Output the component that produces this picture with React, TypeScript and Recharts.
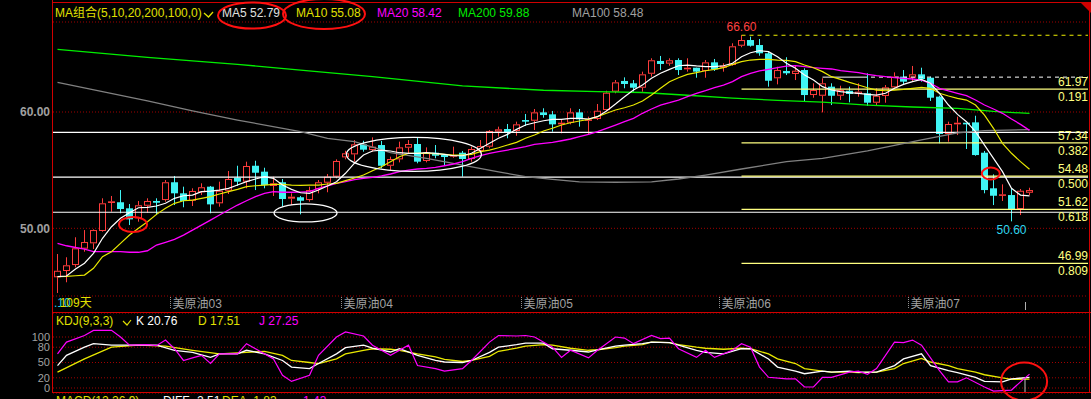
import React from "react";
import { ComposedChart, Bar, Line, XAxis, YAxis, CartesianGrid, ReferenceLine, ReferenceDot } from "recharts";

const FONT = "'Liberation Sans', 'Noto Sans CJK SC', Arial, sans-serif";
const UP = "#ff3c3c";
const DOWN = "#40f4f4";
const GRID = "#a00000";
const FRAME = "#d00000";
const FIB = "#ffff80";
const AXIS_TEXT = "#a0a0a0";

// daily candles
const opens = [
  45.79, 46.33, 46.84, 48.25, 48.71, 49.77, 52.18, 52.24, 51.72, 50.86, 51.94, 52.35, 52.43, 53.96, 53.01, 52.37, 53.1, 53.58, 52.15, 53.23,
  54.35, 54.01, 55.38, 54.87, 53.64, 53.96, 52.55, 52.67, 52.43, 53.38, 53.92, 54.44, 56.1, 56.36, 57.22, 56.73, 57.16, 55.38, 55.93, 56.93,
  57.25, 55.79, 56.5, 56.3, 56.16, 56.5, 55.96, 56.65, 57.02, 58.31, 58.54, 58.37, 59.31, 59.25, 59.97, 59.8, 58.94, 59.08, 59.97, 59.25,
  59.4, 60.17, 61.75, 62.67, 62.47, 62.09, 63.29, 64.39, 64.16, 64.47, 63.67, 63.81, 63.53, 64.27, 63.81, 64.04, 65.7, 66.19, 65.76, 65.05,
  62.9, 63.53, 63.27, 63.61, 61.46, 61.4, 62.18, 61.4, 61.83, 61.55, 61.61, 60.8, 61.38, 62.12, 63.04, 62.95, 63.24, 62.95, 61.32, 58.11,
  58.94, 59.08, 59.11, 56.5, 53.44, 52.84, 52.86, 51.66, 53.06,
];
const highs = [
  47.79, 47.51, 49.23, 49.85, 49.91, 52.58, 52.78, 53.29, 52.09, 52.35, 52.58, 52.58, 54.15, 54.5, 53.58, 53.44, 53.87, 53.64, 54.01, 54.93,
  55.38, 55.73, 55.81, 55.21, 54.44, 54.24, 53.01, 52.78, 53.58, 54.15, 54.67, 55.93, 56.67, 57.59, 57.53, 57.82, 57.51, 56.16, 57.45, 57.59,
  57.79, 56.96, 57.16, 56.3, 57.02, 56.65, 57.02, 57.59, 58.45, 58.74, 58.97, 59.17, 59.83, 60.26, 60.32, 60.09, 59.31, 60.32, 60.26, 59.6,
  60.69, 61.83, 62.75, 62.98, 62.75, 63.47, 64.62, 64.82, 64.62, 64.62, 64.62, 63.81, 64.47, 64.56, 64.19, 65.91, 66.6, 66.48, 66.28, 65.19,
  63.9, 64.71, 63.96, 63.76, 62.47, 62.9, 62.47, 62.26, 62.18, 62.47, 63.33, 62.04, 62.32, 63.41, 63.61, 63.96, 63.81, 63.04, 61.4, 59.17,
  59.6, 59.08, 59.68, 56.65, 54.64, 53.78, 53.44, 53.38, 53.49,
];
const lows = [
  44.44, 45.36, 46.65, 47.99, 48.22, 49.71, 51.43, 51.29, 50.28, 50.57, 51.34, 51.14, 52.29, 52.0, 51.81, 51.92, 52.86, 51.29, 51.86, 52.95,
  53.64, 53.44, 53.29, 53.44, 52.78, 51.86, 52.0, 51.2, 52.29, 53.01, 53.1, 54.3, 55.93, 55.73, 56.59, 56.59, 55.16, 55.01, 55.67, 56.45,
  55.59, 55.67, 56.02, 55.44, 56.07, 54.44, 55.73, 56.45, 56.88, 57.88, 57.74, 57.96, 58.8, 58.45, 59.51, 58.31, 58.17, 58.94, 58.74, 58.08,
  59.31, 60.09, 61.61, 62.04, 61.75, 61.75, 63.04, 63.61, 63.98, 63.18, 63.47, 62.95, 62.95, 63.53, 63.47, 63.98, 65.57, 65.62, 64.84, 62.18,
  62.38, 63.18, 62.75, 60.89, 61.23, 59.97, 60.6, 61.03, 60.83, 61.32, 60.52, 60.6, 60.8, 62.04, 62.32, 62.61, 62.61, 60.95, 57.31, 57.45,
  58.02, 56.82, 56.24, 53.01, 52.0, 52.35, 50.6, 51.14, 52.86,
];
const closes = [
  46.35, 46.82, 48.28, 48.82, 49.85, 52.15, 52.32, 51.66, 50.77, 51.98, 52.35, 52.2, 53.96, 53.01, 52.35, 53.21, 53.53, 52.06, 53.23, 54.24,
  54.01, 55.36, 54.78, 53.72, 53.87, 52.52, 52.72, 52.37, 53.29, 53.96, 54.44, 55.79, 56.45, 57.22, 56.76, 57.02, 55.38, 55.96, 56.96, 57.25,
  55.73, 56.53, 56.24, 56.13, 56.3, 55.96, 56.82, 57.07, 58.37, 58.51, 58.25, 58.94, 59.17, 59.97, 59.74, 58.94, 59.08, 59.97, 59.37, 59.37,
  60.11, 61.66, 62.55, 62.41, 62.09, 63.24, 64.45, 64.13, 64.45, 63.61, 63.81, 63.47, 64.27, 63.67, 63.98, 65.65, 66.19, 65.7, 65.05, 62.69,
  63.61, 63.33, 63.55, 61.46, 61.89, 62.47, 61.4, 61.89, 61.55, 61.75, 60.8, 61.4, 62.12, 63.04, 62.61, 63.24, 62.84, 61.23, 58.11, 58.97,
  59.08, 58.94, 56.3, 53.29, 52.8, 52.92, 51.66, 53.23, 53.29,
];

const ma5 = [
  45.84, 45.9, 46.5, 47.0, 47.85, 49.14, 50.14, 50.86, 51.34, 51.77, 51.8, 51.92, 52.15, 52.58, 52.8, 52.86, 53.15, 53.2, 53.29, 53.44,
  53.72, 54.01, 54.24, 54.44, 54.3, 53.72, 53.35, 53.06, 53.01, 53.29, 53.64, 54.01, 54.73, 55.6, 56.3, 56.65, 56.73, 56.65, 56.5, 56.45,
  56.45, 56.5, 56.45, 56.36, 56.24, 56.24, 56.45, 56.88, 57.31, 57.74, 58.08, 58.51, 58.88, 59.08, 59.25, 59.37, 59.37, 59.46, 59.46, 59.4,
  59.6, 60.09, 60.69, 61.32, 61.89, 62.32, 62.9, 63.33, 63.67, 63.98, 64.04, 63.96, 63.9, 63.9, 63.98, 64.19, 64.76, 65.1, 65.27, 65.19,
  64.76, 64.2, 63.76, 63.18, 62.75, 62.18, 61.89, 61.75, 61.66, 61.61, 61.52, 61.46, 61.61, 62.04, 62.38, 62.61, 62.81, 62.47, 61.61, 60.6,
  59.8, 59.17, 58.31, 57.16, 56.02, 54.87, 53.44, 52.86, 52.79,
];
const ma10 = [
  45.84, 45.87, 45.92, 45.98, 46.56, 47.56, 47.99, 48.71, 49.42, 50.0, 50.57, 51.2, 51.72, 52.15, 52.37, 52.43, 52.58, 52.72, 52.95, 53.15,
  53.35, 53.58, 53.66, 53.72, 53.78, 53.78, 53.72, 53.7, 53.72, 53.72, 53.81, 53.87, 54.1, 54.33, 54.58, 54.95, 55.3, 55.73, 56.16, 56.45,
  56.45, 56.45, 56.42, 56.36, 56.3, 56.3, 56.36, 56.59, 56.73, 56.93, 57.16, 57.39, 57.74, 58.02, 58.37, 58.6, 58.88, 59.08, 59.23, 59.37,
  59.6, 59.89, 60.17, 60.37, 60.6, 60.95, 61.46, 62.04, 62.61, 62.95, 63.24, 63.38, 63.55, 63.67, 63.81, 64.1, 64.33, 64.47, 64.53, 64.53,
  64.47, 64.44, 64.33, 64.04, 63.81, 63.47, 63.04, 62.81, 62.55, 62.32, 62.09, 61.89, 61.83, 61.89, 61.95, 62.04, 62.12, 62.04, 61.61, 61.38,
  61.18, 61.03, 60.6, 59.74, 58.6, 57.31, 56.45, 55.73, 55.08,
];
const ma20 = [
  48.71, 48.5, 48.35, 48.22, 47.99, 47.99, 47.99, 47.99, 47.94, 47.94, 48.07, 48.56, 48.8, 49.05, 49.42, 49.85, 50.28, 50.71, 51.14, 51.57,
  52.0, 52.37, 52.72, 53.01, 53.15, 53.1, 53.1, 53.12, 53.15, 53.44, 53.64, 53.87, 54.01, 54.18, 54.3, 54.38, 54.5, 54.67, 54.87, 55.01,
  55.1, 55.16, 55.24, 55.38, 55.53, 55.73, 56.02, 56.24, 56.45, 56.59, 56.73, 56.88, 57.02, 57.22, 57.31, 57.39, 57.53, 57.68, 57.88, 58.08,
  58.31, 58.6, 58.88, 59.17, 59.46, 59.89, 60.26, 60.6, 60.8, 61.03, 61.32, 61.61, 61.83, 62.09, 62.32, 62.61, 63.04, 63.33, 63.53, 63.67,
  63.81, 63.95, 63.98, 63.9, 63.81, 63.76, 63.7, 63.55, 63.47, 63.38, 63.24, 63.12, 63.04, 62.95, 62.9, 62.84, 62.75, 62.47, 62.04, 61.81,
  61.61, 61.4, 61.03, 60.6, 60.26, 59.89, 59.4, 58.94, 58.42,
];
// slow averages, read at a few bars
const ma100Pts: [number, number][] = [
  [0, 62.55], [5, 61.75], [10, 60.95], [15, 60.1], [20, 59.31], [27, 58.31], [30, 57.74], [33, 57.45], [37, 56.5], [41, 56.02],
  [45, 55.44], [49, 54.85], [52, 54.44], [55, 54.2], [58, 54.0], [62, 53.96], [66, 54.0], [69, 54.24], [72, 54.58], [76, 55.1],
  [81, 55.73], [85, 56.02], [90, 56.65], [96, 57.6], [100, 58.2], [103, 58.4], [108, 58.48],
];
const ma200Pts: [number, number][] = [
  [0, 65.39], [10, 64.7], [20, 64.1], [27, 63.61], [35, 63.04], [45, 62.24], [54, 61.87], [60, 61.75], [65, 61.68], [70, 61.44],
  [75, 61.2], [80, 61.0], [85, 60.85], [90, 60.6], [95, 60.43], [100, 60.32], [104, 60.05], [108, 59.88],
];

// KDJ(9,3,3)
const kPts: [number, number][] = [
  [0, 44], [1, 64], [3, 80], [4, 87], [6, 84], [9, 84], [11, 84], [13, 74], [15, 70], [17, 60], [18, 67], [20, 67], [21, 74], [23, 67],
  [25, 54], [26, 41], [28, 38], [29, 48], [31, 67], [32, 79], [34, 84], [35, 78], [37, 70.6], [38, 77], [40, 64], [42, 54], [43, 51],
  [45, 50], [46, 54], [48, 70], [49, 80], [51, 85], [52, 88], [54, 88], [55, 77], [57, 74], [59, 70.6], [60, 75], [62, 82], [63, 84],
  [65, 87], [66, 90], [68, 89], [69, 84], [71, 74], [72, 70], [74, 67], [76, 77], [77, 77], [79, 57], [80, 41], [82, 33], [83, 28],
  [85, 33], [86, 31], [88, 33], [89, 31], [91, 31], [93, 44], [94, 57], [96, 67], [97, 44], [99, 34], [100, 30], [102, 21], [103, 13],
  [105, 12], [106, 18], [108, 20.76],
];
const dPts: [number, number][] = [
  [0, 31], [3, 57], [6, 80], [9, 84], [12, 82], [15, 74], [18, 67], [21, 70], [23, 72], [25, 64], [26, 54], [28, 50], [29, 48], [31, 57],
  [32, 67], [34, 74], [35, 77], [37, 76], [38, 74], [40, 67], [42, 61], [43, 56], [45, 52], [46, 54], [48, 62], [49, 72], [51, 78],
  [52, 82], [54, 85], [55, 84], [57, 78], [59, 74], [60, 75], [62, 79], [63, 82], [65, 85], [66, 90], [68, 89], [69, 85], [71, 80],
  [72, 78], [74, 76], [76, 78], [77, 77], [79, 67], [80, 57], [82, 48], [83, 38], [85, 33], [86, 31], [88, 31], [89, 30], [91, 31],
  [93, 38], [94, 48], [96, 58], [97, 51], [99, 44], [100, 38], [102, 31], [103, 26], [105, 20], [106, 17], [108, 17.51],
];
const jPts: [number, number][] = [
  [0, 67], [1, 90], [3, 103], [4, 113], [6, 113], [7, 100], [8, 84], [10, 85], [11, 83], [12, 94], [13, 77], [14, 54], [15, 59], [16, 64],
  [17, 48], [18, 67], [20, 67], [21, 87], [22, 77], [24, 57], [25, 25], [26, 13], [28, 25], [29, 64], [31, 100], [32, 110], [34, 102],
  [35, 84], [37, 64], [39, 84], [40, 44], [42, 38], [43, 33], [45, 38], [46, 54], [48, 90], [49, 103], [51, 102], [52, 103], [53, 100],
  [55, 80], [56, 60], [57, 74], [59, 59], [60, 74], [62, 100], [63, 98], [64, 87], [66, 103], [67, 97], [68, 98], [69, 77], [71, 60],
  [72, 74], [73, 60], [75, 74], [76, 87], [77, 80], [78, 41], [79, 21], [81, 18], [82, 18], [83, 2], [84, 2], [85, 21], [86, 21], [88, 31],
  [89, 33], [90, 27], [91, 38], [93, 90], [94, 89], [95, 94], [96, 84], [98, 34], [99, 12], [100, 12], [101, 20], [103, 2], [104, -6],
  [106, -4], [107, 12], [108, 27.25],
];

const monthTicks = [13, 32, 52, 74, 95];
const monthLabels = ["美原油03", "美原油04", "美原油05", "美原油06", "美原油07"];
const lastBar = 108;

const fibPrices = [61.97, 57.34, 54.48, 51.62, 46.99];
const fibRatios = ["0.191", "0.382", "0.500", "0.618", "0.809"];
const fibTop = 66.6;
const fibStartBar = 76;
const drawnLines = [58.25, 54.41, 51.38];
const dashedLevel = 63.0;
const peak = { i: 76, v: 66.6 };
const trough = { i: 106, v: 50.6 };

const PAD_BARS = 6;
const toMap = (pts: [number, number][]) => new Map(pts);
const ma100At = toMap(ma100Pts);
const ma200At = toMap(ma200Pts);
const kAt = toMap(kPts);
const dAt = toMap(dPts);
const jAt = toMap(jPts);

const rows = Array.from({ length: opens.length + PAD_BARS }, (_, i) => {
  if (i >= opens.length) return { i };
  return {
    i,
    open: opens[i],
    high: highs[i],
    low: lows[i],
    close: closes[i],
    range: [lows[i], highs[i]],
    ma5: ma5[i],
    ma10: ma10[i],
    ma20: ma20[i],
    ma100: ma100At.get(i) ?? null,
    ma200: ma200At.get(i) ?? null,
    k: kAt.get(i) ?? null,
    d: dAt.get(i) ?? null,
    j: jAt.get(i) ?? null,
  };
});

const Candle = (props: any) => {
  const { x, y, width, height, payload } = props;
  if (!payload || payload.open == null) return null;
  const { open, close, high, low } = payload;
  const top = Math.min(y, y + height);
  const span = Math.abs(height);
  const py = (v: number) => top + ((high - v) / (high - low || 1)) * span;
  const cx = Math.floor(x + width / 2) + 0.5;
  const left = cx - 3.5;
  const up = close >= open;
  const bTop = py(Math.max(open, close));
  const bBot = py(Math.min(open, close));
  const bh = Math.max(bBot - bTop, 1);
  if (up) {
    return (
      <g>
        <line x1={cx} x2={cx} y1={top} y2={bTop} stroke={UP} />
        <line x1={cx} x2={cx} y1={bTop + bh} y2={top + span} stroke={UP} />
        <rect x={left + 0.5} y={bTop + 0.5} width={6} height={Math.max(bh - 1, 0.5)} fill="#000" stroke={UP} />
      </g>
    );
  }
  return (
    <g>
      <line x1={cx} x2={cx} y1={top} y2={top + span} stroke={DOWN} />
      <rect x={left} y={bTop} width={7} height={bh} fill={DOWN} />
    </g>
  );
};

const MonthTick = (props: any) => {
  const { x, y, payload } = props;
  const idx = monthTicks.indexOf(payload.value);
  const lx = Math.floor(x - 4.5) + 0.5;
  if (idx < 0) {
    return <line x1={lx} x2={lx} y1={y - 2} y2={y + 6} stroke="#b0b0b0" />;
  }
  return (
    <g>
      <line x1={lx} x2={lx} y1={y - 7} y2={y + 5} stroke="#909090" strokeDasharray="1 1" />
      <text x={lx + 2} y={y + 4} fill={AXIS_TEXT} fontSize={12} fontFamily={FONT}>
        {monthLabels[idx]}
      </text>
    </g>
  );
};

const fibLabel = (price: string, ratio: string) => (props: any) => {
  const vb = props.viewBox;
  if (!vb) return null;
  const right = vb.x + vb.width;
  return (
    <g fontSize={12} fill={FIB} fontFamily={FONT} textAnchor="end">
      <text x={right} y={vb.y - 3}>{price}</text>
      <text x={right} y={vb.y + 12}>{ratio}</text>
    </g>
  );
};

const ellipse = (rx: number, ry: number, color: string, w: number) => (p: any) => (
  <ellipse cx={p.cx} cy={p.cy} rx={rx} ry={ry} fill="none" stroke={color} strokeWidth={w} />
);

const marks = [
  { i: 8.39, v: 50.33, rx: 14, ry: 7.5, color: "#ff1010", w: 2 },
  { i: 27.56, v: 51.32, rx: 31.5, ry: 9, color: "#ffffff", w: 1.3 },
  { i: 39.6, v: 56.35, rx: 67.5, ry: 17, color: "#ffffff", w: 1.3 },
  { i: 103.7, v: 54.71, rx: 9, ry: 6, color: "#ff1010", w: 2 },
];

const App: React.FC = () => {
  return (
    <div style={{ position: "absolute", left: 0, top: 0, width: 1091, height: 399, background: "#000", overflow: "hidden", fontFamily: FONT }}>
      <div style={{ position: "absolute", left: 0, top: 0 }}>
        <ComposedChart width={1091} height={313} data={rows} margin={{ top: 22, right: 3, left: 0, bottom: 0 }}>
          <CartesianGrid vertical={false} stroke={GRID} strokeDasharray="1 2" />
          <XAxis
            dataKey="i"
            type="category"
            ticks={[...monthTicks, lastBar]}
            interval={0}
            height={17}
            axisLine={false}
            tickLine={false}
            tick={<MonthTick />}
          />
          <XAxis xAxisId="n" dataKey="i" type="number" domain={[-0.5, 114.5]} allowDataOverflow hide />
          <YAxis
            domain={[44.18, 67.74]}
            allowDataOverflow
            ticks={[50, 60]}
            interval={0}
            width={53}
            axisLine={false}
            tickLine={false}
            tickSize={0}
            tickMargin={3}
            tickFormatter={(v: number) => v.toFixed(2)}
            tick={{ fill: AXIS_TEXT, fontSize: 12, fontWeight: "bold", fontFamily: FONT }}
          />
          {drawnLines.map((v) => (
            <ReferenceLine key={v} y={v} stroke="#ffffff" strokeWidth={1.2} />
          ))}
          <ReferenceLine
            xAxisId="n"
            segment={[{ x: fibStartBar, y: fibTop }, { x: 114.5, y: fibTop }]}
            stroke="#f0f000"
            strokeDasharray="4 4"
          />
          <ReferenceLine xAxisId="n" segment={[{ x: 85, y: dashedLevel }, { x: 89.5, y: dashedLevel }]} stroke="#ffffff" />
          <ReferenceLine
            xAxisId="n"
            segment={[{ x: 89.5, y: dashedLevel }, { x: 114.5, y: dashedLevel }]}
            stroke="#ffffff"
            strokeDasharray="4 4"
          />
          {fibPrices.map((v, n) => (
            <ReferenceLine
              key={v}
              xAxisId="n"
              segment={[{ x: fibStartBar, y: v }, { x: 114.5, y: v }]}
              stroke={FIB}
              strokeWidth={1.2}
              label={fibLabel(v.toFixed(2), fibRatios[n])}
            />
          ))}
          <Line dataKey="ma200" stroke="#00ee00" strokeWidth={1.3} dot={false} connectNulls isAnimationActive={false} />
          <Line dataKey="ma100" stroke="#808080" strokeWidth={1.3} dot={false} connectNulls isAnimationActive={false} />
          <Line dataKey="ma20" stroke="#ff00ff" strokeWidth={1.3} dot={false} isAnimationActive={false} />
          <Line dataKey="ma10" stroke="#e8e800" strokeWidth={1.2} dot={false} isAnimationActive={false} />
          <Line dataKey="ma5" stroke="#ffffff" strokeWidth={1.2} dot={false} isAnimationActive={false} />
          <Bar dataKey="range" barSize={7} isAnimationActive={false} shape={(p: any) => <Candle {...p} />} />
          {marks.map((m) => (
            <ReferenceDot
              key={m.i}
              xAxisId="n"
              x={m.i}
              y={m.v}
              r={1}
              ifOverflow="visible"
              shape={ellipse(m.rx, m.ry, m.color, m.w)}
            />
          ))}
          <ReferenceDot
            xAxisId="n"
            x={peak.i}
            y={peak.v}
            r={0}
            fill="none"
            stroke="none"
            label={{ value: peak.v.toFixed(2), position: "top", offset: 4, fill: "#ff4040", fontSize: 12, fontFamily: FONT }}
          />
          <ReferenceDot
            xAxisId="n"
            x={trough.i}
            y={trough.v}
            r={0}
            fill="none"
            stroke="none"
            label={{ value: trough.v.toFixed(2), position: "bottom", offset: 4, fill: "#30d8f0", fontSize: 12, fontFamily: FONT }}
          />
        </ComposedChart>
      </div>

      <div style={{ position: "absolute", left: 0, top: 313 }}>
        <ComposedChart width={1091} height={86} data={rows} margin={{ top: 0, right: 3, left: 0, bottom: 6 }}>
          <CartesianGrid vertical={false} stroke={GRID} strokeDasharray="1 2" />
          <XAxis dataKey="i" type="number" domain={[-0.5, 114.5]} allowDataOverflow hide />
          <YAxis
            domain={[-9.8, 147.1]}
            allowDataOverflow
            ticks={[0, 20, 50, 80, 100]}
            interval={0}
            width={53}
            axisLine={false}
            tickLine={false}
            tickSize={0}
            tickMargin={3}
            tick={{ fill: AXIS_TEXT, fontSize: 11, fontFamily: FONT }}
          />
          <Line dataKey="d" stroke="#e8e800" strokeWidth={1.3} dot={false} connectNulls isAnimationActive={false} />
          <Line dataKey="k" stroke="#ffffff" strokeWidth={1.3} dot={false} connectNulls isAnimationActive={false} />
          <Line dataKey="j" stroke="#ff00ff" strokeWidth={1.2} dot={false} connectNulls isAnimationActive={false} />
          <ReferenceLine segment={[{ x: 107.5, y: -9 }, { x: 107.5, y: 18 }]} stroke="#c0c0c0" />
          <ReferenceDot x={107.4} y={12.7} r={1} ifOverflow="visible" shape={ellipse(23, 19, "#ff1010", 2)} />
        </ComposedChart>
      </div>

      <svg width={1091} height={399} style={{ position: "absolute", left: 0, top: 0, pointerEvents: "none" }} fontFamily={FONT}>
        <line x1={52.5} x2={52.5} y1={0} y2={393} stroke={FRAME} />
        <line x1={1089.5} x2={1089.5} y1={2} y2={393} stroke={FRAME} />
        <line x1={52} x2={1091} y1={2.5} y2={2.5} stroke={FRAME} />
        <line x1={52} x2={1091} y1={312.5} y2={312.5} stroke={FRAME} />
        <line x1={52} x2={1091} y1={392.5} y2={392.5} stroke={FRAME} />
        <polygon points="1081,3 1091,3 1091,13" fill={FRAME} />

        <g fontSize={12}>
          <text x={55} y={17} fill="#e0e000">MA组合(5,10,20,200,100,0)</text>
          <polyline points="204,13 208.5,17 213,12" fill="none" stroke="#e0e000" strokeWidth={1.3} />
          <text x={222} y={17} fill="#e0e0e0">MA5 52.79</text>
          <text x={296} y={17} fill="#e0e000">MA10 55.08</text>
          <text x={377} y={17} fill="#ff00ff">MA20 58.42</text>
          <text x={458} y={17} fill="#00ee00">MA200 59.88</text>
          <text x={572} y={17} fill="#a0a0a0">MA100 58.48</text>
        </g>
        <ellipse cx={252} cy={15.5} rx={34} ry={13} fill="none" stroke="#ff1010" strokeWidth={2} />
        <ellipse cx={324} cy={14} rx={41} ry={15} fill="none" stroke="#ff1010" strokeWidth={2} />

        <text x={54} y={307} fontSize={12}>
          <tspan fill="#20c8e8">.10</tspan>
          <tspan dx={-11} fill="#e0e000">109天</tspan>
        </text>

        <g fontSize={12}>
          <text x={56} y={325} fill="#e0e000">KDJ(9,3,3)</text>
          <polyline points="123,321 127,325 131,320" fill="none" stroke="#e0e000" strokeWidth={1.2} />
          <text x={136} y={325} fill="#ffffff">K 20.76</text>
          <text x={198} y={325} fill="#e0e000">D 17.51</text>
          <text x={259} y={325} fill="#ff00ff">J 27.25</text>
        </g>
        <g fontSize={12}>
          <text x={56} y={405} fill="#e0e000">MACD(12,26,9)</text>
          <text x={163} y={405} fill="#ffffff">DIFF -2.51</text>
          <text x={222} y={405} fill="#e0e000">DEA -1.83</text>
          <text x={299} y={405} fill="#ff00ff">-1.43</text>
        </g>
      </svg>
    </div>
  );
};

export default App;
